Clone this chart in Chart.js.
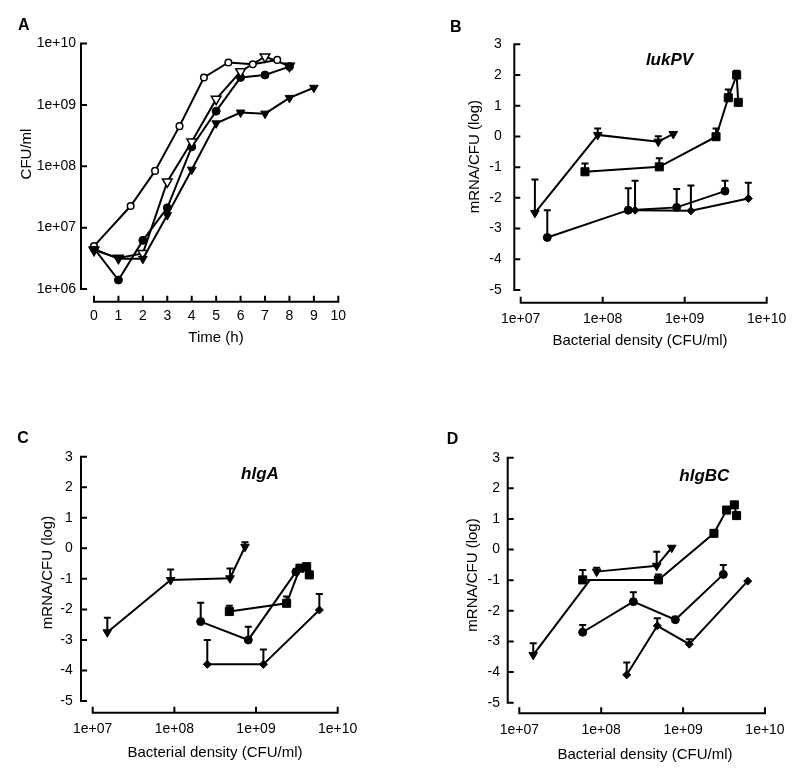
<!DOCTYPE html>
<html><head><meta charset="utf-8">
<script src="https://cdn.jsdelivr.net/npm/chart.js@4.4.1/dist/chart.umd.min.js"></script>
<style>
html,body{margin:0;padding:0;background:#fff;width:800px;height:776px;overflow:hidden}
.p{position:absolute;width:400px;height:388px}
canvas{display:block}
</style></head><body>
<div class="p" style="left:0;top:0"><canvas id="cA" width="400" height="388"></canvas></div>
<div class="p" style="left:400px;top:0"><canvas id="cB" width="400" height="388"></canvas></div>
<div class="p" style="left:0;top:388px"><canvas id="cC" width="400" height="388"></canvas></div>
<div class="p" style="left:400px;top:388px"><canvas id="cD" width="400" height="388"></canvas></div>
<script>
// ---------- DATA ----------
// Panel A: growth curves (Time h vs CFU/ml)
const timeTicks = [0,1,2,3,4,5,6,7,8,9,10];
const timeTickLabels = ['0','1','2','3','4','5','6','7','8','9','10'];
const cfuTicks = [1e6,1e7,1e8,1e9,1e10];
const cfuTickLabels = ['1e+06','1e+07','1e+08','1e+09','1e+10'];

const aOpenCircleTime = [0,1.5,2.5,3.5,4.5,5.5,6.5,7.5];
const aOpenCircleCfu  = [5.0e6,2.25e7,8.4e7,4.5e8,2.8e9,4.9e9,4.6e9,5.4e9];
const aOpenTriTime = [0,1,2,3,4,5,6,7,8];
const aOpenTriCfu  = [4.3e6,3.2e6,3.8e6,5.6e7,2.5e8,1.24e9,3.5e9,6.1e9,4.3e9];
const aFilledCircleTime = [0,1,2,3,4,5,6,7,8];
const aFilledCircleCfu  = [4.6e6,1.4e6,6.2e6,2.1e7,2.07e8,7.9e8,2.8e9,3.07e9,4.2e9];
const aFilledTriTime = [0,1,2,3,4,5,6,7,8,9];
const aFilledTriCfu  = [4.5e6,3.1e6,3.1e6,1.6e7,8.8e7,5.0e8,7.5e8,7.2e8,1.3e9,1.9e9];

// Panels B-D: mRNA/CFU (log) vs bacterial density
const densTicks = [1e7,1e8,1e9,1e10];
const densTickLabels = ['1e+07','1e+08','1e+09','1e+10'];
const logTicks = [-5,-4,-3,-2,-1,0,1,2,3];
const logTickLabels = ['-5','-4','-3','-2','-1','0','1','2','3'];

// B lukPV
const bTriX = [1.49e7,8.7e7,4.76e8,7.26e8];
const bTriY = [-2.49,0.05,-0.17,0.08];
const bTriErr = [-1.40,0.26,0.01,null];
const bSqX = [6.08e7,4.9e8,2.41e9,3.4e9,4.3e9,4.5e9];
const bSqY = [-1.15,-0.99,-0.01,1.26,2.0,1.11];
const bSqErr = [-0.88,-0.71,0.26,1.53,2.14,null];
const bCirX = [2.11e7,2.05e8,7.98e8,3.1e9];
const bCirY = [-3.29,-2.40,-2.31,-1.78];
const bCirErr = [-2.40,-1.69,-1.71,-1.44];
const bDiaX = [2.48e8,1.19e9,5.97e9];
const bDiaY = [-2.40,-2.42,-2.02];
const bDiaErr = [-1.44,-1.60,-1.51];

// C hlgA
const cTriX = [1.51e7,9.0e7,4.8e8,7.33e8];
const cTriY = [-2.75,-1.04,-0.98,0.05];
const cTriErr = [-2.27,-0.69,-0.66,0.20];
const cSqX = [4.71e8,2.37e9,3.45e9,4.17e9,4.49e9];
const cSqY = [-2.07,-1.80,-0.65,-0.60,-0.87];
const cSqErr = [-1.88,-1.58,null,null,null];
const cCirX = [2.1e8,8.04e8,3.08e9];
const cCirY = [-2.40,-3.0,-0.77];
const cCirErr = [-1.78,-2.57,null];
const cDiaX = [2.53e8,1.23e9,5.96e9];
const cDiaY = [-3.80,-3.80,-2.02];
const cDiaErr = [-3.0,-3.31,-1.50];

// D hlgBC
const dTriX = [1.48e7,8.8e7,4.76e8,7.26e8];
const dTriY = [-3.44,-0.72,-0.53,0.06];
const dTriErr = [-3.06,-0.59,-0.07,null];
const dTriLinkX = [1.48e7,7.3e7];
const dTriLinkY = [-3.44,-0.99];
const dSqX = [5.94e7,4.99e8,2.38e9,3.4e9,4.22e9,4.5e9];
const dSqY = [-0.99,-0.99,0.53,1.29,1.46,1.11];
const dSqErr = [-0.67,-0.81,0.64,null,null,null];
const dCirX = [5.94e7,2.47e8,8.04e8,3.1e9];
const dCirY = [-2.70,-1.70,-2.29,-0.81];
const dCirErr = [-2.46,-1.39,-2.19,-0.50];
const dDiaX = [2.05e8,4.84e8,1.19e9,6.15e9];
const dDiaY = [-4.09,-2.49,-3.09,-1.03];
const dDiaErr = [-3.69,-2.24,-2.93,null];

// ---------- RENDERING ----------
const FONT = "'Liberation Sans', Arial, Helvetica, sans-serif";
Chart.defaults.font.family = FONT;
Chart.defaults.color = '#000';
const W_Y = 70, H_X = 60, CW = 400, CH = 388;

const ST = {
  openCircle:   {shape:'circle', r:3.3, open:true},
  filledCircle: {shape:'circle', r:4},
  openTri:      {shape:'triangle', r:5.6, rot:180, open:true},
  filledTri:    {shape:'triangle', r:5, rot:180},
  square:       {shape:'rect', r:5.7},
  diamond:      {shape:'rectRot', r:4}
};

function series(xs, ys, st, err, extra) {
  return Object.assign({
    data: xs.map((x, i) => ({x: x, y: ys[i]})),
    showLine: true, borderColor: '#000', borderWidth: 2, clip: false,
    pointStyle: st.shape, pointRadius: st.r, pointRotation: st.rot || 0,
    pointBackgroundColor: st.open ? '#fff' : '#000', pointBorderColor: '#000',
    pointBorderWidth: st.open ? 1.5 : 1, errTop: err || null
  }, extra || {});
}

function axis(type, pos, min, max, vals, labels, pad, isX) {
  return {
    type: type, position: pos, min: min, max: max,
    afterBuildTicks: s => { s.ticks = vals.map(v => ({value: v})); },
    afterFit: s => {
      if (isX) s.height = H_X; else s.width = W_Y;
      s.paddingLeft = 0; s.paddingRight = 0; s.paddingTop = 0; s.paddingBottom = 0;
    },
    grid: {display: false, drawTicks: false},
    border: {display: false},
    ticks: {padding: pad, font: {size: 14}, color: '#000', maxRotation: 0, minRotation: 0,
      autoSkip: false, callback: (v, i) => labels[i]}
  };
}

function deco(cfg) {
  return {
    id: 'deco',
    beforeDatasetsDraw(chart) {
      const ctx = chart.ctx, xs = chart.scales.x, ys = chart.scales.y, a = chart.chartArea;
      const ax = a.left - cfg.gapY, ay = a.bottom + cfg.gapX;
      ctx.save();
      ctx.strokeStyle = '#000'; ctx.lineWidth = 2; ctx.lineCap = 'butt';
      ctx.beginPath();
      ctx.moveTo(ax, ys.getPixelForValue(ys.min) + 1); ctx.lineTo(ax, ys.getPixelForValue(ys.max) - 1);
      ys.ticks.forEach(t => { const p = ys.getPixelForValue(t.value); ctx.moveTo(ax, p); ctx.lineTo(ax + 6, p); });
      ctx.moveTo(xs.getPixelForValue(xs.min) - 1, ay); ctx.lineTo(xs.getPixelForValue(xs.max) + 1, ay);
      xs.ticks.forEach(t => { const p = xs.getPixelForValue(t.value); ctx.moveTo(p, ay); ctx.lineTo(p, ay - 6); });
      ctx.stroke();
      chart.data.datasets.forEach(ds => {
        if (!ds.errTop) return;
        ds.data.forEach((pt, i) => {
          const e = ds.errTop[i]; if (e == null) return;
          const px = xs.getPixelForValue(pt.x), p0 = ys.getPixelForValue(pt.y), p1 = ys.getPixelForValue(e);
          ctx.beginPath(); ctx.moveTo(px, p0); ctx.lineTo(px, p1);
          ctx.moveTo(px - 3.5, p1); ctx.lineTo(px + 3.5, p1); ctx.stroke();
        });
      });
      ctx.restore();
    },
    afterDraw(chart) {
      const ctx = chart.ctx;
      ctx.save();
      ctx.fillStyle = '#000';
      ctx.textBaseline = 'alphabetic';
      ctx.font = 'bold 16px ' + FONT; ctx.textAlign = 'left';
      ctx.fillText(cfg.letter[0], cfg.letter[1], cfg.letter[2]);
      if (cfg.gene) {
        ctx.font = 'italic bold 17px ' + FONT; ctx.textAlign = 'center';
        ctx.fillText(cfg.gene[0], cfg.gene[1], cfg.gene[2]);
      }
      ctx.font = '15px ' + FONT; ctx.textAlign = 'center';
      ctx.fillText(cfg.xTitle[0], cfg.xTitle[1], cfg.xTitle[2]);
      ctx.translate(cfg.yTitle[1], cfg.yTitle[2]);
      ctx.rotate(-Math.PI / 2);
      ctx.fillText(cfg.yTitle[0], 0, 0);
      ctx.restore();
    }
  };
}

function panel(id, area, cfg, xAxis, yAxis, datasets) {
  const [l, r, t, b] = area;
  new Chart(document.getElementById(id), {
    type: 'scatter',
    data: {datasets: datasets},
    options: {
      responsive: false, animation: false, devicePixelRatio: 1, events: [],
      layout: {padding: {left: l - W_Y, right: CW - r, top: t, bottom: CH - b - H_X}},
      plugins: {legend: {display: false}, tooltip: {enabled: false}, title: {display: false}},
      scales: {x: xAxis, y: yAxis}
    },
    plugins: [deco(cfg)]
  });
}

// Panel A (the open-triangle marker at 8 h is hidden under overlapping filled marks in the original)
const openTriFill = aOpenTriTime.map((t, i) => i === aOpenTriTime.length - 1 ? '#000' : '#fff');
panel('cA', [94, 338.3, 43.5, 289],
  {gapY: 13, gapX: 12.7, letter: ['A', 18, 30], xTitle: ['Time (h)', 216, 342.4], yTitle: ['CFU/ml', 31, 154]},
  axis('linear', 'bottom', 0, 10, timeTicks, timeTickLabels, 19, true),
  axis('logarithmic', 'left', 1e6, 1e10, cfuTicks, cfuTickLabels, 18, false),
  [
    series(aFilledTriTime, aFilledTriCfu, ST.filledTri),
    series(aOpenCircleTime, aOpenCircleCfu, ST.openCircle),
    series(aOpenTriTime, aOpenTriCfu, ST.openTri, null, {pointBackgroundColor: openTriFill}),
    series(aFilledCircleTime, aFilledCircleCfu, ST.filledCircle)
  ]);

// Panel B
panel('cB', [120.7, 366.7, 44.3, 290],
  {gapY: 6.4, gapX: 12.7, letter: ['B', 50, 31.5], gene: ['lukPV', 269.5, 65],
   xTitle: ['Bacterial density (CFU/ml)', 240, 345], yTitle: ['mRNA/CFU (log)', 78.5, 156.7]},
  axis('logarithmic', 'bottom', 1e7, 1e10, densTicks, densTickLabels, 20.6, true),
  axis('linear', 'left', -5, 3, logTicks, logTickLabels, 19, false),
  [
    series(bTriX, bTriY, ST.filledTri, bTriErr),
    series(bSqX, bSqY, ST.square, bSqErr),
    series(bCirX, bCirY, ST.filledCircle, bCirErr),
    series(bDiaX, bDiaY, ST.diamond, bDiaErr)
  ]);

// Panel C
panel('cC', [92.7, 337.7, 68.7, 313],
  {gapY: 11.7, gapX: 11.7, letter: ['C', 17.3, 55.3], gene: ['hlgA', 260, 91],
   xTitle: ['Bacterial density (CFU/ml)', 215, 368.7], yTitle: ['mRNA/CFU (log)', 51.8, 184.5]},
  axis('logarithmic', 'bottom', 1e7, 1e10, densTicks, densTickLabels, 19.8, true),
  axis('linear', 'left', -5, 3, logTicks, logTickLabels, 20, false),
  [
    series(cTriX, cTriY, ST.filledTri, cTriErr),
    series(cSqX, cSqY, ST.square, cSqErr),
    series(cCirX, cCirY, ST.filledCircle, cCirErr),
    series(cDiaX, cDiaY, ST.diamond, cDiaErr)
  ]);

// Panel D
panel('cD', [119.3, 365, 69.7, 314.7],
  {gapY: 11.6, gapX: 10.6, letter: ['D', 46.7, 56], gene: ['hlgBC', 304.3, 93],
   xTitle: ['Bacterial density (CFU/ml)', 245, 371], yTitle: ['mRNA/CFU (log)', 76.8, 187]},
  axis('logarithmic', 'bottom', 1e7, 1e10, densTicks, densTickLabels, 19.4, true),
  axis('linear', 'left', -5, 3, logTicks, logTickLabels, 19.3, false),
  [
    series(dTriLinkX, dTriLinkY, {shape: 'circle', r: 0}),
    series(dTriX, dTriY, ST.filledTri, dTriErr, {segment: {borderColor: c => c.p0DataIndex === 0 ? 'rgba(0,0,0,0)' : '#000'}}),
    series(dSqX, dSqY, ST.square, dSqErr),
    series(dCirX, dCirY, ST.filledCircle, dCirErr),
    series(dDiaX, dDiaY, ST.diamond, dDiaErr)
  ]);
</script>
</body></html>
